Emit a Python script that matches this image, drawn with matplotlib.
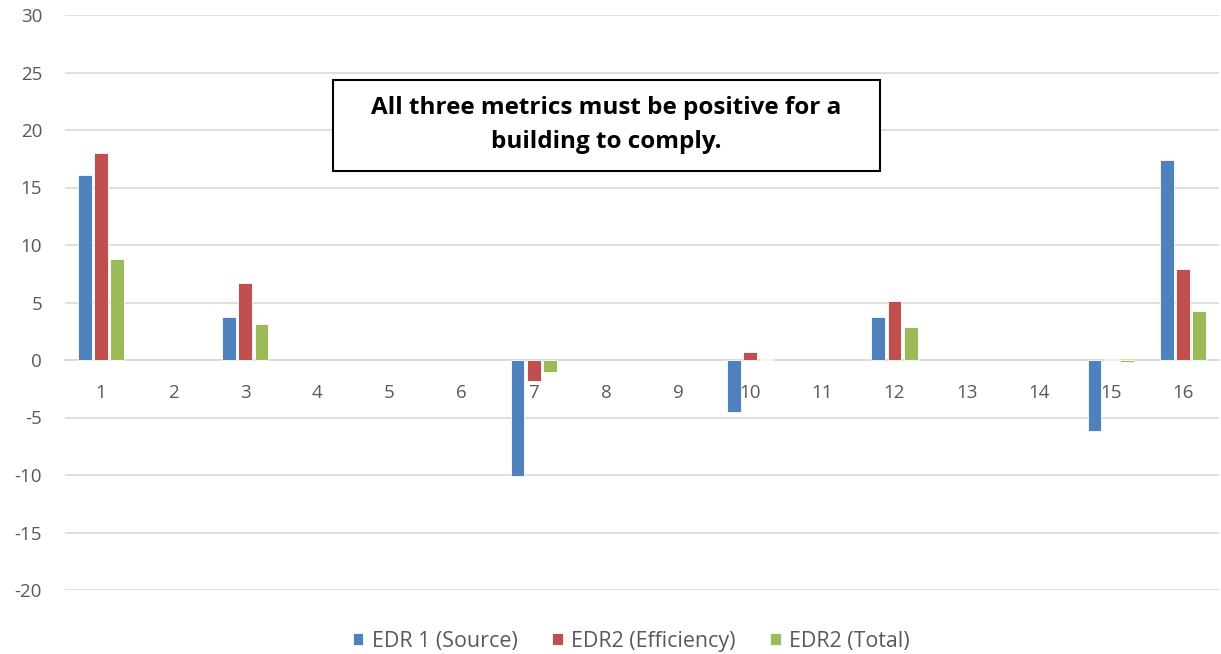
import matplotlib.pyplot as plt
import numpy as np
from matplotlib.patches import Rectangle

plt.rcParams['font.family'] = ['Open Sans', 'DejaVu Sans']
plt.rcParams['axes.unicode_minus'] = False

# Data
categories = [str(i) for i in range(1, 17)]
edr1_source = [16.1, 0, 3.7, 0, 0, 0, -10.1, 0, 0, -4.5, 0, 3.7, 0, 0, -6.2, 17.4]
edr2_efficiency = [18.0, 0, 6.7, 0, 0, 0, -1.8, 0, 0, 0.7, 0, 5.1, 0, 0, 0.05, 7.9]
edr2_total = [8.8, 0, 3.1, 0, 0, 0, -1.0, 0, 0, 0.05, 0, 2.9, 0, 0, -0.15, 4.3]
series_names = ["EDR 1 (Source)", "EDR2 (Efficiency)", "EDR2 (Total)"]
colors = ["#4F81BD", "#C0504D", "#9BBB59"]

fig = plt.figure(figsize=(12.21, 6.54), dpi=100)
ax = fig.add_axes([65 / 1221, 1 - 590 / 654, 1154 / 1221, (590 - 15) / 654])

x = np.arange(len(categories))
w = 0.19
pitch = 0.225
for k, vals in enumerate([edr1_source, edr2_efficiency, edr2_total]):
    vals = np.array(vals, dtype=float)
    keep = vals != 0  # empty categories have no bar drawn
    ax.bar(x[keep] + (k - 1) * pitch, vals[keep], width=w, color=colors[k],
           edgecolor="white", linewidth=0.6, label=series_names[k], zorder=3)

ax.set_xlim(-0.5, len(categories) - 0.5)
ax.set_ylim(-20, 30)
ax.set_yticks(np.arange(-20, 31, 5))
ax.yaxis.grid(True, color="#D9D9D9", linewidth=1.2, zorder=0)
ax.set_axisbelow(True)

for s in ["top", "right", "left"]:
    ax.spines[s].set_visible(False)
ax.spines["bottom"].set_position(("data", 0))
ax.spines["bottom"].set_color("#D9D9D9")
ax.spines["bottom"].set_linewidth(1.2)
ax.spines["bottom"].set_zorder(2)

ax.set_xticks(x)
ax.set_xticklabels(categories)
ax.tick_params(axis="x", length=0, pad=17, labelsize=13.5, labelcolor="#595959")
ax.tick_params(axis="y", length=0, pad=16.5, labelsize=13.5, labelcolor="#595959")

# text box
ax.add_patch(Rectangle((333 / 1221, 1 - 171 / 654), (880 - 333) / 1221, (171 - 80) / 654,
                       transform=fig.transFigure, facecolor="white", edgecolor="black",
                       linewidth=1.5, zorder=5, clip_on=False))
fig.text((333 + 880) / 2 / 1221, 1 - 125 / 654,
         "All three metrics must be positive for a\nbuilding to comply.",
         ha="center", va="center", fontsize=17.5, fontweight="bold", color="black",
         linespacing=1.55, zorder=6)

leg = fig.legend(loc="center", bbox_to_anchor=(0.517, 1 - 641 / 654), ncol=3, frameon=False,
                 fontsize=15.4, handlelength=0.5, handleheight=0.5, columnspacing=1.6,
                 handletextpad=0.4)
for t in leg.get_texts():
    t.set_color("#595959")

fig.savefig("out.png", dpi=100)
